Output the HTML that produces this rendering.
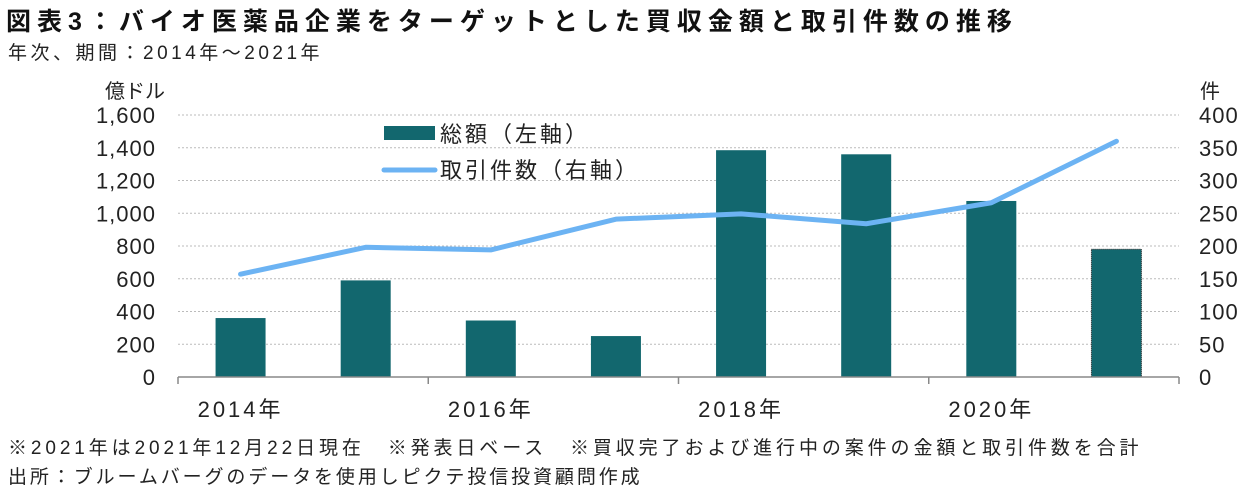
<!DOCTYPE html>
<html><head><meta charset="utf-8">
<style>
body{margin:0;background:#fff;width:1259px;height:494px;overflow:hidden;font-family:"Liberation Sans","Noto Sans CJK JP",sans-serif;color:#222}
.t{position:absolute;white-space:nowrap}
</style></head><body>
<div class="t" style="left:6px;top:2px;font-size:25px;font-weight:bold;color:#111;letter-spacing:6px">図表3：バイオ医薬品企業をターゲットとした買収金額と取引件数の推移</div>
<div class="t" style="left:8px;top:38px;font-size:19px;letter-spacing:3.5px">年次、期間：2014年～2021年</div>
<div class="t" style="left:8px;top:433px;font-size:19px;letter-spacing:3.9px">※2021年は2021年12月22日現在　※発表日ベース　※買収完了および進行中の案件の金額と取引件数を合計</div>
<div class="t" style="left:8px;top:462px;font-size:19px;letter-spacing:2.9px">出所：ブルームバーグのデータを使用しピクテ投信投資顧問作成</div>
<svg id="chart" width="1259" height="494" style="position:absolute;left:0;top:0"></svg>
<script>
const categories=["2014年","2015年","2016年","2017年","2018年","2019年","2020年","2021年"];
const amounts=[360,590,345,250,1385,1360,1075,780];
const deals=[157,198,194,241,249,234,266,360];
const leftTicks=[0,200,400,600,800,1000,1200,1400,1600];
const rightTicks=[0,50,100,150,200,250,300,350,400];
const xLabels=["2014年","2016年","2018年","2020年"];
const NS="http://www.w3.org/2000/svg";
const svg=document.getElementById('chart');
const X0=178,X1=1179,Y0=377,Y1=115;
const bw=(X1-X0)/categories.length;
const yL=v=>Y0-(v/1600)*(Y0-Y1);
const yR=v=>Y0-(v/400)*(Y0-Y1);
const xC=i=>X0+bw*(i+0.5);
function mk(t,a){const e=document.createElementNS(NS,t);for(const k in a)e.setAttribute(k,a[k]);svg.appendChild(e);return e;}
leftTicks.forEach((v,i)=>{
 if(v>0){const g=mk('line',{x1:X0,x2:X1,y1:yL(v),y2:yL(v),stroke:'#bbb','stroke-dasharray':'2,2'});
 
 }
 const t=mk('text',{x:156,y:yL(v)+8,'text-anchor':'end','font-size':22,fill:'#222','letter-spacing':1});t.textContent=v.toLocaleString('en-US');
 
 
});
rightTicks.forEach(v=>{
 const t=mk('text',{x:1199,y:yR(v)+8,'font-size':22,fill:'#222','letter-spacing':1});t.textContent=v;
 
 
});
const yt=mk('text',{x:105,y:98,'font-size':20,fill:'#222'});yt.textContent='億ドル';


const yt2=mk('text',{x:1200,y:98,'font-size':20,fill:'#222'});yt2.textContent='件';


amounts.forEach((v,i)=>{
 const r=mk('rect',{x:xC(i)-25,y:yL(v),width:50,height:Y0-yL(v),fill:'#12676e'});
 if(i===amounts.length-1){r.setAttribute('stroke','#222');r.setAttribute('stroke-dasharray','1,1');}
 
 
});
const ax=mk('line',{x1:X0,x2:X1,y1:Y0,y2:Y0,stroke:'#888','stroke-width':1.5});


[0,2,4,6,8].forEach(k=>{const l=mk('line',{x1:X0+k*bw,x2:X0+k*bw,y1:Y0,y2:Y0+7,stroke:'#888','stroke-width':1.5});
 
 });
xLabels.forEach((s,j)=>{const t=mk('text',{x:xC(j*2),y:417,'text-anchor':'middle','font-size':22,fill:'#222','letter-spacing':3});t.textContent=s;
 
 });
const pl=mk('polyline',{points:deals.map((v,i)=>xC(i)+','+yR(v)).join(' '),fill:'none',stroke:'#6cb3f3','stroke-width':5,'stroke-linecap':'round','stroke-linejoin':'round'});


const lb=mk('rect',{x:384,y:126,width:51,height:14,fill:'#12676e'});


const lt=mk('text',{x:440,y:142,'font-size':22,fill:'#222','letter-spacing':3});lt.textContent='総額（左軸）';


const ll=mk('line',{x1:384,x2:435,y1:170,y2:170,stroke:'#6cb3f3','stroke-width':5,'stroke-linecap':'round'});


const lt2=mk('text',{x:440,y:178,'font-size':22,fill:'#222','letter-spacing':3});lt2.textContent='取引件数（右軸）';


</script>
</body></html>
